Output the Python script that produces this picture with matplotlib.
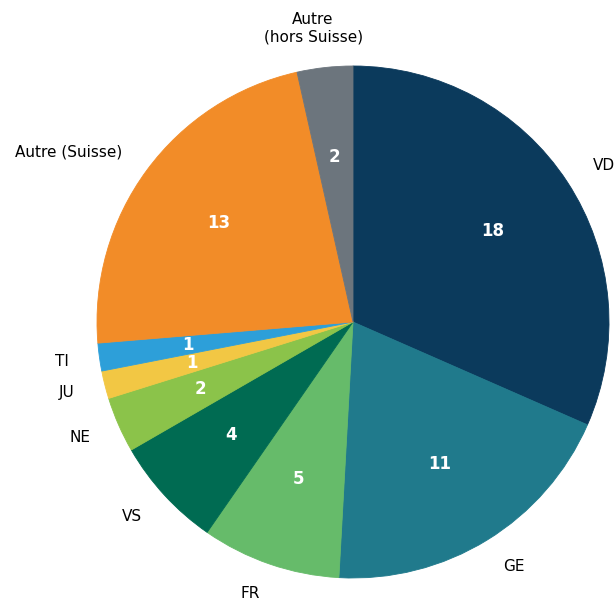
import matplotlib
matplotlib.use("Agg")
import matplotlib.pyplot as plt

labels = ["VD", "GE", "FR", "VS", "NE", "JU", "TI", "Autre (Suisse)", "Autre\n(hors Suisse)"]
counts = [18, 11, 5, 4, 2, 1, 1, 13, 2]
colors = ["#0b3a5c", "#207a8c", "#66bb6a", "#006b52", "#8bc34a",
          "#f2c744", "#2d9fd9", "#f28c28", "#6c757d"]

fig = plt.figure(figsize=(6.14, 5.99), dpi=100)
ax = fig.add_axes([(353 - 256) / 614, (599 - 322 - 256) / 599, 512 / 614, 512 / 599])

wedges, texts, autotexts = ax.pie(
    counts, labels=labels, colors=colors, startangle=90, counterclock=False,
    autopct=lambda p: "%d" % round(p * sum(counts) / 100),
    labeldistance=1.12, pctdistance=0.65,
    textprops={"fontsize": 11})
for w in wedges:
    w.set_edgecolor(w.get_facecolor())
    w.set_linewidth(0.6)
for t in autotexts:
    t.set_color("white")
    t.set_fontweight("bold")
    t.set_fontsize(12)

# top label sits centred above the grey wedge
texts[-1].set_horizontalalignment("center")
texts[-1].set_multialignment("center")
texts[-1].set_position((-0.156, 1.148))

ax.set_xlim(-1, 1)
ax.set_ylim(-1, 1)

fig.savefig("out.png", dpi=100)
